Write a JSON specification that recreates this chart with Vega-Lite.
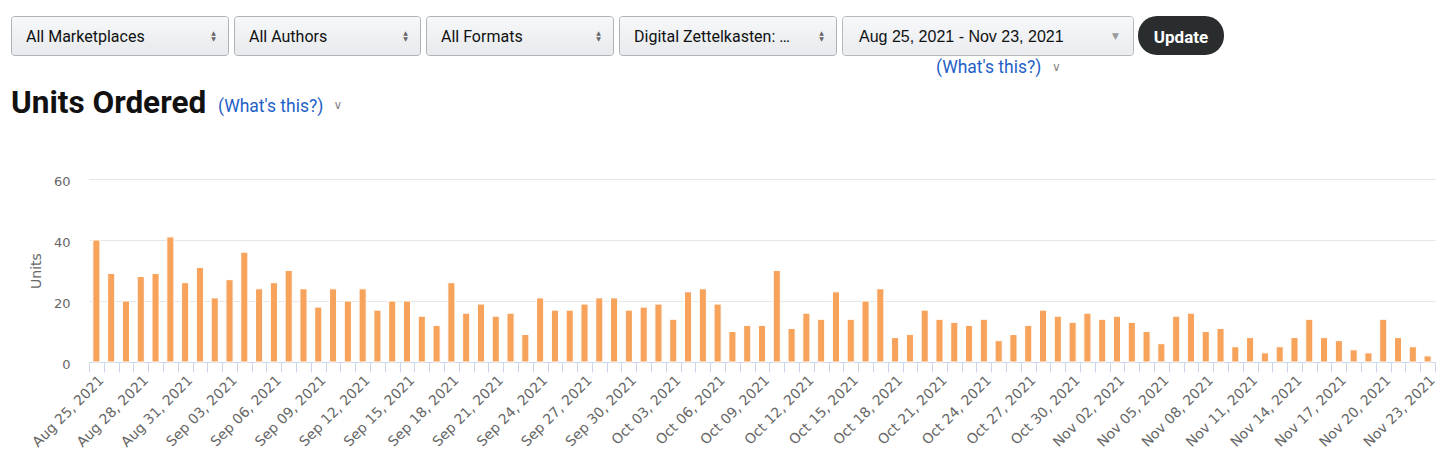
{
  "$schema": "https://vega.github.io/schema/vega-lite/v6.json",
  "background": "#ffffff",
  "padding": {"left": 10, "top": 15, "right": 0, "bottom": 0},
  "config": {"view": {"stroke": null}, "font": "DejaVu Sans"},
  "datasets": {
    "units": [
      {"date": "2021-08-25", "units": 40}, {"date": "2021-08-26", "units": 29}, {"date": "2021-08-27", "units": 20},
      {"date": "2021-08-28", "units": 28}, {"date": "2021-08-29", "units": 29}, {"date": "2021-08-30", "units": 41},
      {"date": "2021-08-31", "units": 26}, {"date": "2021-09-01", "units": 31}, {"date": "2021-09-02", "units": 21},
      {"date": "2021-09-03", "units": 27}, {"date": "2021-09-04", "units": 36}, {"date": "2021-09-05", "units": 24},
      {"date": "2021-09-06", "units": 26}, {"date": "2021-09-07", "units": 30}, {"date": "2021-09-08", "units": 24},
      {"date": "2021-09-09", "units": 18}, {"date": "2021-09-10", "units": 24}, {"date": "2021-09-11", "units": 20},
      {"date": "2021-09-12", "units": 24}, {"date": "2021-09-13", "units": 17}, {"date": "2021-09-14", "units": 20},
      {"date": "2021-09-15", "units": 20}, {"date": "2021-09-16", "units": 15}, {"date": "2021-09-17", "units": 12},
      {"date": "2021-09-18", "units": 26}, {"date": "2021-09-19", "units": 16}, {"date": "2021-09-20", "units": 19},
      {"date": "2021-09-21", "units": 15}, {"date": "2021-09-22", "units": 16}, {"date": "2021-09-23", "units": 9},
      {"date": "2021-09-24", "units": 21}, {"date": "2021-09-25", "units": 17}, {"date": "2021-09-26", "units": 17},
      {"date": "2021-09-27", "units": 19}, {"date": "2021-09-28", "units": 21}, {"date": "2021-09-29", "units": 21},
      {"date": "2021-09-30", "units": 17}, {"date": "2021-10-01", "units": 18}, {"date": "2021-10-02", "units": 19},
      {"date": "2021-10-03", "units": 14}, {"date": "2021-10-04", "units": 23}, {"date": "2021-10-05", "units": 24},
      {"date": "2021-10-06", "units": 19}, {"date": "2021-10-07", "units": 10}, {"date": "2021-10-08", "units": 12},
      {"date": "2021-10-09", "units": 12}, {"date": "2021-10-10", "units": 30}, {"date": "2021-10-11", "units": 11},
      {"date": "2021-10-12", "units": 16}, {"date": "2021-10-13", "units": 14}, {"date": "2021-10-14", "units": 23},
      {"date": "2021-10-15", "units": 14}, {"date": "2021-10-16", "units": 20}, {"date": "2021-10-17", "units": 24},
      {"date": "2021-10-18", "units": 8}, {"date": "2021-10-19", "units": 9}, {"date": "2021-10-20", "units": 17},
      {"date": "2021-10-21", "units": 14}, {"date": "2021-10-22", "units": 13}, {"date": "2021-10-23", "units": 12},
      {"date": "2021-10-24", "units": 14}, {"date": "2021-10-25", "units": 7}, {"date": "2021-10-26", "units": 9},
      {"date": "2021-10-27", "units": 12}, {"date": "2021-10-28", "units": 17}, {"date": "2021-10-29", "units": 15},
      {"date": "2021-10-30", "units": 13}, {"date": "2021-10-31", "units": 16}, {"date": "2021-11-01", "units": 14},
      {"date": "2021-11-02", "units": 15}, {"date": "2021-11-03", "units": 13}, {"date": "2021-11-04", "units": 10},
      {"date": "2021-11-05", "units": 6}, {"date": "2021-11-06", "units": 15}, {"date": "2021-11-07", "units": 16},
      {"date": "2021-11-08", "units": 10}, {"date": "2021-11-09", "units": 11}, {"date": "2021-11-10", "units": 5},
      {"date": "2021-11-11", "units": 8}, {"date": "2021-11-12", "units": 3}, {"date": "2021-11-13", "units": 5},
      {"date": "2021-11-14", "units": 8}, {"date": "2021-11-15", "units": 14}, {"date": "2021-11-16", "units": 8},
      {"date": "2021-11-17", "units": 7}, {"date": "2021-11-18", "units": 4}, {"date": "2021-11-19", "units": 3},
      {"date": "2021-11-20", "units": 14}, {"date": "2021-11-21", "units": 8}, {"date": "2021-11-22", "units": 5},
      {"date": "2021-11-23", "units": 2}
    ]
  },
  "spacing": 11,
  "vconcat": [
    {
      "spacing": 4,
      "hconcat": [
        {
          "width": 217, "height": 39,
          "view": {"fill": {"gradient": "linear", "x1": 0, "y1": 0, "x2": 0, "y2": 1, "stops": [{"offset": 0, "color": "#f7f8fa"}, {"offset": 1, "color": "#e7e9ec"}]}, "stroke": "#adb1b8", "cornerRadius": 3},
          "data": {"values": [{"label": "All Marketplaces"}]},
          "layer": [
            {"mark": {"type": "text", "align": "left", "baseline": "alphabetic", "dx": 15, "dy": 6.5, "font": "Roboto", "fontSize": 16, "color": "#0f1111"},
             "encoding": {"x": {"field": "label", "type": "nominal", "bandPosition": 0, "axis": null, "scale": {"type": "band", "paddingInner": 0, "paddingOuter": 0}}, "text": {"field": "label"}}},
            {"mark": {"type": "text", "text": "▲", "align": "center", "baseline": "middle", "dx": -14.5, "dy": -3, "fontSize": 6, "color": "#666666"},
             "encoding": {"x": {"field": "label", "type": "nominal", "bandPosition": 1, "axis": null, "scale": {"type": "band", "paddingInner": 0, "paddingOuter": 0}}}},
            {"mark": {"type": "text", "text": "▼", "align": "center", "baseline": "middle", "dx": -14.5, "dy": 3, "fontSize": 6, "color": "#666666"},
             "encoding": {"x": {"field": "label", "type": "nominal", "bandPosition": 1, "axis": null, "scale": {"type": "band", "paddingInner": 0, "paddingOuter": 0}}}}
          ]
        },
        {
          "width": 186, "height": 39,
          "view": {"fill": {"gradient": "linear", "x1": 0, "y1": 0, "x2": 0, "y2": 1, "stops": [{"offset": 0, "color": "#f7f8fa"}, {"offset": 1, "color": "#e7e9ec"}]}, "stroke": "#adb1b8", "cornerRadius": 3},
          "data": {"values": [{"label": "All Authors"}]},
          "layer": [
            {"mark": {"type": "text", "align": "left", "baseline": "alphabetic", "dx": 15, "dy": 6.5, "font": "Roboto", "fontSize": 16, "color": "#0f1111"},
             "encoding": {"x": {"field": "label", "type": "nominal", "bandPosition": 0, "axis": null, "scale": {"type": "band", "paddingInner": 0, "paddingOuter": 0}}, "text": {"field": "label"}}},
            {"mark": {"type": "text", "text": "▲", "align": "center", "baseline": "middle", "dx": -14.5, "dy": -3, "fontSize": 6, "color": "#666666"},
             "encoding": {"x": {"field": "label", "type": "nominal", "bandPosition": 1, "axis": null, "scale": {"type": "band", "paddingInner": 0, "paddingOuter": 0}}}},
            {"mark": {"type": "text", "text": "▼", "align": "center", "baseline": "middle", "dx": -14.5, "dy": 3, "fontSize": 6, "color": "#666666"},
             "encoding": {"x": {"field": "label", "type": "nominal", "bandPosition": 1, "axis": null, "scale": {"type": "band", "paddingInner": 0, "paddingOuter": 0}}}}
          ]
        },
        {
          "width": 187, "height": 39,
          "view": {"fill": {"gradient": "linear", "x1": 0, "y1": 0, "x2": 0, "y2": 1, "stops": [{"offset": 0, "color": "#f7f8fa"}, {"offset": 1, "color": "#e7e9ec"}]}, "stroke": "#adb1b8", "cornerRadius": 3},
          "data": {"values": [{"label": "All Formats"}]},
          "layer": [
            {"mark": {"type": "text", "align": "left", "baseline": "alphabetic", "dx": 15, "dy": 6.5, "font": "Roboto", "fontSize": 16, "color": "#0f1111"},
             "encoding": {"x": {"field": "label", "type": "nominal", "bandPosition": 0, "axis": null, "scale": {"type": "band", "paddingInner": 0, "paddingOuter": 0}}, "text": {"field": "label"}}},
            {"mark": {"type": "text", "text": "▲", "align": "center", "baseline": "middle", "dx": -14.5, "dy": -3, "fontSize": 6, "color": "#666666"},
             "encoding": {"x": {"field": "label", "type": "nominal", "bandPosition": 1, "axis": null, "scale": {"type": "band", "paddingInner": 0, "paddingOuter": 0}}}},
            {"mark": {"type": "text", "text": "▼", "align": "center", "baseline": "middle", "dx": -14.5, "dy": 3, "fontSize": 6, "color": "#666666"},
             "encoding": {"x": {"field": "label", "type": "nominal", "bandPosition": 1, "axis": null, "scale": {"type": "band", "paddingInner": 0, "paddingOuter": 0}}}}
          ]
        },
        {
          "width": 217, "height": 39,
          "view": {"fill": {"gradient": "linear", "x1": 0, "y1": 0, "x2": 0, "y2": 1, "stops": [{"offset": 0, "color": "#f7f8fa"}, {"offset": 1, "color": "#e7e9ec"}]}, "stroke": "#adb1b8", "cornerRadius": 3},
          "data": {"values": [{"label": "Digital Zettelkasten: …"}]},
          "layer": [
            {"mark": {"type": "text", "align": "left", "baseline": "alphabetic", "dx": 15, "dy": 6.5, "font": "Roboto", "fontSize": 16, "color": "#0f1111"},
             "encoding": {"x": {"field": "label", "type": "nominal", "bandPosition": 0, "axis": null, "scale": {"type": "band", "paddingInner": 0, "paddingOuter": 0}}, "text": {"field": "label"}}},
            {"mark": {"type": "text", "text": "▲", "align": "center", "baseline": "middle", "dx": -14.5, "dy": -3, "fontSize": 6, "color": "#666666"},
             "encoding": {"x": {"field": "label", "type": "nominal", "bandPosition": 1, "axis": null, "scale": {"type": "band", "paddingInner": 0, "paddingOuter": 0}}}},
            {"mark": {"type": "text", "text": "▼", "align": "center", "baseline": "middle", "dx": -14.5, "dy": 3, "fontSize": 6, "color": "#666666"},
             "encoding": {"x": {"field": "label", "type": "nominal", "bandPosition": 1, "axis": null, "scale": {"type": "band", "paddingInner": 0, "paddingOuter": 0}}}}
          ]
        },
        {
          "width": 291, "height": 39,
          "view": {"fill": {"gradient": "linear", "x1": 0, "y1": 0, "x2": 0, "y2": 1, "stops": [{"offset": 0, "color": "#f7f8fa"}, {"offset": 1, "color": "#e9ebee"}]}, "stroke": "#b5b9be", "cornerRadius": 3},
          "data": {"values": [{"label": "Aug 25, 2021 - Nov 23, 2021"}]},
          "layer": [
            {"mark": {"type": "text", "align": "left", "baseline": "alphabetic", "dx": 17, "dy": 6, "font": "Liberation Sans", "fontSize": 16, "color": "#0f1111"},
             "encoding": {"x": {"field": "label", "type": "nominal", "bandPosition": 0, "axis": null, "scale": {"type": "band", "paddingInner": 0, "paddingOuter": 0}}, "text": {"field": "label"}}},
            {"mark": {"type": "text", "text": "▼", "align": "center", "baseline": "middle", "dx": -17.5, "dy": 0, "fontSize": 9, "color": "#999999"},
             "encoding": {"x": {"field": "label", "type": "nominal", "bandPosition": 1, "axis": null, "scale": {"type": "band", "paddingInner": 0, "paddingOuter": 0}}}},
            {"mark": {"type": "text", "text": "(What's this?)", "align": "left", "baseline": "alphabetic", "dx": 94, "dy": 37.5, "font": "Roboto", "fontSize": 17.5, "color": "#1e5fc8"},
             "encoding": {"x": {"field": "label", "type": "nominal", "bandPosition": 0, "axis": null, "scale": {"type": "band", "paddingInner": 0, "paddingOuter": 0}}}},
            {"mark": {"type": "text", "text": "∨", "align": "center", "baseline": "middle", "dx": 214.5, "dy": 31.5, "font": "DejaVu Sans", "fontSize": 12, "color": "#888888"},
             "encoding": {"x": {"field": "label", "type": "nominal", "bandPosition": 0, "axis": null, "scale": {"type": "band", "paddingInner": 0, "paddingOuter": 0}}}}
          ]
        },
        {
          "width": 86, "height": 39,
          "view": {"fill": "#2a2d2e", "stroke": null, "cornerRadius": 19},
          "data": {"values": [{"label": "Update"}]},
          "mark": {"type": "text", "align": "center", "baseline": "alphabetic", "dy": 7, "font": "Roboto", "fontWeight": "bold", "fontSize": 17, "color": "#ffffff"},
          "encoding": {"x": {"field": "label", "type": "nominal", "bandPosition": 0.5, "axis": null, "scale": {"type": "band", "paddingInner": 0, "paddingOuter": 0}}, "text": {"field": "label"}}
        }
      ]
    },
    {
      "width": 414, "height": 75.5,
      "data": {"values": [{"k": "a", "t": "Units Ordered"}, {"k": "b", "t": "(What's this?)"}]},
      "encoding": {"x": {"field": "k", "type": "nominal", "bandPosition": 0, "axis": null, "scale": {"type": "band", "paddingInner": 0, "paddingOuter": 0}}},
      "layer": [
        {"transform": [{"filter": "datum.k == 'a'"}],
         "mark": {"type": "text", "align": "left", "baseline": "alphabetic", "dy": -12.75, "font": "Roboto", "fontWeight": "bold", "fontSize": 31.5, "color": "#111111"},
         "encoding": {"text": {"field": "t"}}},
        {"transform": [{"filter": "datum.k == 'b'"}],
         "mark": {"type": "text", "align": "left", "baseline": "alphabetic", "dy": -13.75, "font": "Roboto", "fontSize": 17.5, "color": "#1e5fc8"},
         "encoding": {"text": {"field": "t"}}},
        {"transform": [{"filter": "datum.k == 'b'"}],
         "mark": {"type": "text", "text": "∨", "align": "center", "baseline": "middle", "dx": 120, "dy": -20.75, "font": "DejaVu Sans", "fontSize": 12, "color": "#888888"},
         "encoding": {}}
      ]
    },
    {
      "bounds": "flush",
      "spacing": 0,
      "hconcat": [
        {
          "width": 78, "height": 183,
          "data": {"values": []},
          "mark": {"type": "text"},
          "encoding": {}
        },
        {
          "width": 1346, "height": 183,
          "data": {"name": "units"},
          "mark": {"type": "bar", "color": "#f7a35c", "stroke": "#ffffff", "strokeWidth": 1, "width": {"band": 0.48}},
          "encoding": {
            "x": {
              "field": "date", "type": "ordinal",
              "scale": {"type": "band", "paddingInner": 0, "paddingOuter": 0},
              "axis": {
                "title": null, "grid": false, "tickBand": "extent",
                "domainColor": "#ccd6eb", "tickColor": "#ccd6eb", "tickSize": 10,
                "labelAngle": -45, "labelFont": "DejaVu Sans", "labelFontSize": 14, "labelColor": "#666666",
                "labelOverlap": false, "labelPadding": 1,
                "labelExpr": "isValid(datum.value) && round((toDate(datum.value) - toDate('2021-08-25')) / 86400000) % 3 == 0 ? utcFormat(toDate(datum.value), '%b %d, %Y') : ''"
              }
            },
            "y": {
              "field": "units", "type": "quantitative",
              "scale": {"domain": [0, 60], "nice": false},
              "axis": {
                "values": [0, 20, 40, 60], "title": "Units", "titleFont": "DejaVu Sans", "titleFontSize": 14,
                "titleFontWeight": "normal", "titleColor": "#666666", "titlePadding": 10,
                "labelFont": "DejaVu Sans", "labelFontSize": 13, "labelColor": "#666666", "labelPadding": 19, "labelOffset": 2,
                "ticks": false, "tickSize": 0, "domain": false, "gridColor": "#e6e6e6"
              }
            }
          }
        }
      ]
    }
  ]
}
